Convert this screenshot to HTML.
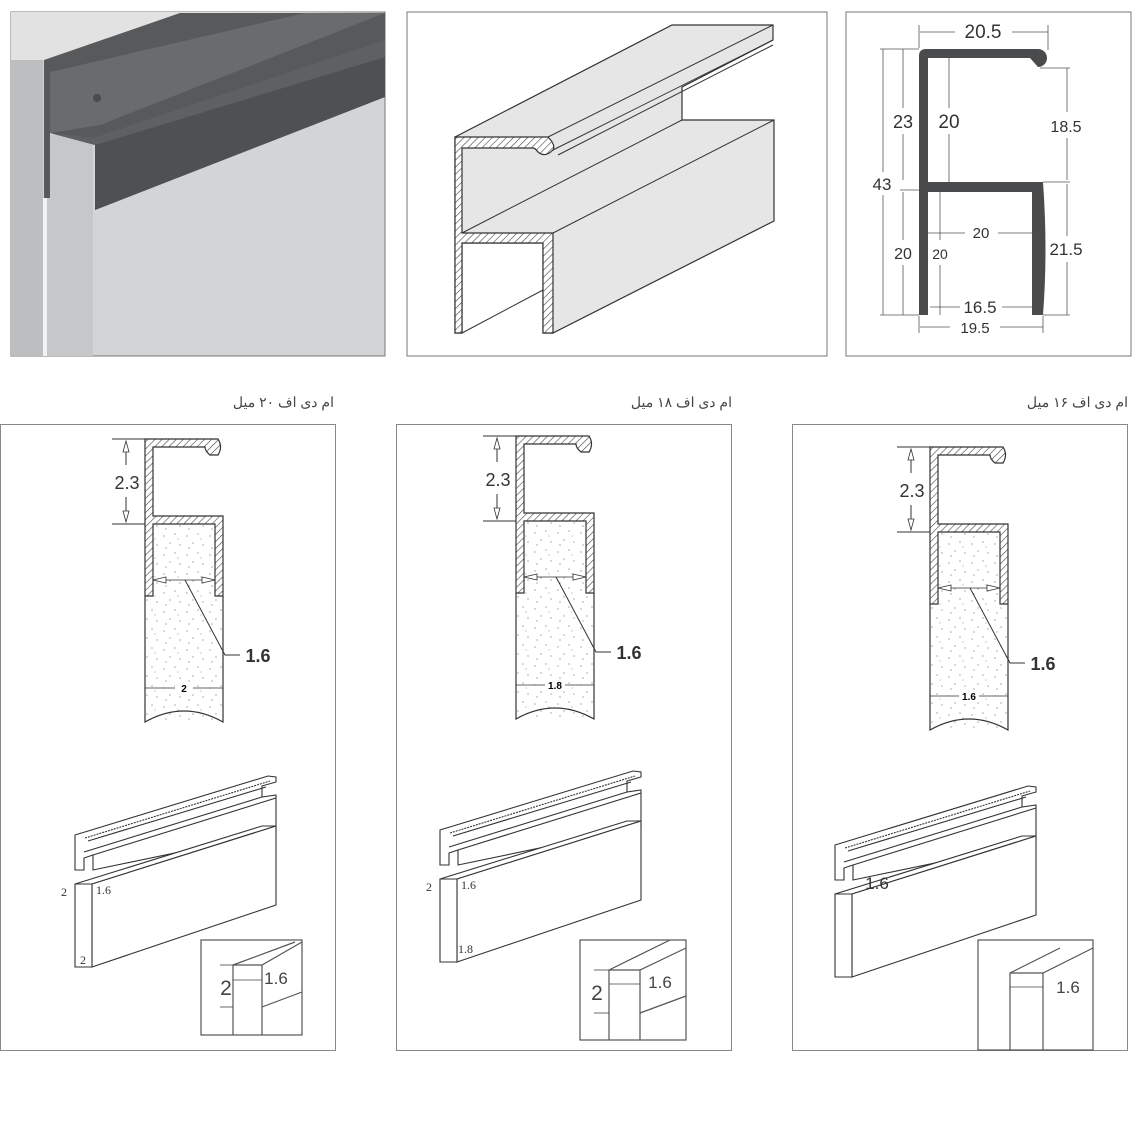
<!DOCTYPE html>
<html><head><meta charset="utf-8"><style>
html,body{margin:0;padding:0;background:#fff;width:1143px;height:1143px;overflow:hidden}
svg{display:block}
</style></head><body>
<svg width="1143" height="1143" viewBox="0 0 1143 1143" xmlns="http://www.w3.org/2000/svg" font-family="Liberation Sans, sans-serif">
<defs>
<pattern id="hatch" patternUnits="userSpaceOnUse" width="5" height="5" patternTransform="rotate(45)">
<rect width="5" height="5" fill="#fff"/><line x1="0" y1="0" x2="0" y2="5" stroke="#444" stroke-width="1.2"/></pattern>
<pattern id="stip" patternUnits="userSpaceOnUse" width="23" height="19">
<rect width="23" height="19" fill="#fff"/>
<circle cx="3" cy="4" r="0.6" fill="#777"/><circle cx="14" cy="2" r="0.6" fill="#777"/><circle cx="9" cy="11" r="0.6" fill="#777"/><circle cx="19" cy="13" r="0.6" fill="#777"/><circle cx="5" cy="16" r="0.6" fill="#777"/><circle cx="17" cy="7" r="0.5" fill="#777"/></pattern>
<g id="sec">
<rect x="145" y="524" width="78" height="196" fill="url(#stip)"/>
<path d="M145,596 L145,722 Q184,700 223,722 L223,596" fill="url(#stip)" stroke="#333" stroke-width="1.2"/>
<path d="M145,439 L218,439 Q223,447 218,455 L210,455 Q205,451 205,447 L153,447 L153,516 L223,516 L223,596 L215,596 L215,524 L153,524 L153,596 L145,596 Z" fill="url(#hatch)" stroke="#333" stroke-width="1.2"/>
<line x1="112" y1="439" x2="145" y2="439" stroke="#333"/>
<line x1="112" y1="524" x2="145" y2="524" stroke="#333"/>
<line x1="126" y1="441" x2="126" y2="465" stroke="#333"/>
<line x1="126" y1="497" x2="126" y2="522" stroke="#333"/>
<path d="M123,452 L126,441 L129,452 Z M123,511 L126,522 L129,511 Z" fill="#fff" stroke="#333" stroke-width="0.8"/>
<text x="127" y="489" font-size="18" text-anchor="middle" fill="#333">2.3</text>
<line x1="153" y1="580" x2="215" y2="580" stroke="#333" stroke-width="0.8"/>
<path d="M153,580 L166,577 L166,583 Z M215,580 L202,577 L202,583 Z" fill="#fff" stroke="#333" stroke-width="0.8"/>
<polyline points="185,580 225,655 240,655" fill="none" stroke="#333" stroke-width="1"/>
<text x="258" y="662" font-size="18" font-weight="bold" text-anchor="middle" fill="#333">1.6</text>
<line x1="145" y1="688" x2="223" y2="688" stroke="#333" stroke-width="0.8"/>
</g>
<g id="iso" fill="#fff" stroke="#333" stroke-width="1.1">
<path d="M75,835 L268,776 L276,777 L276,782 L262,786 L262,797 L276,795 L276,832 L93,870 L93,855 L84,858 L84,870 L75,870 Z"/>
<line x1="85" y1="838" x2="270" y2="781" stroke-dasharray="2 1"/>
<line x1="88" y1="841" x2="266" y2="787"/>
<line x1="84" y1="852" x2="262" y2="797"/>
<line x1="93" y1="855" x2="276" y2="798"/>
<path d="M75,884 L262,826 L276,826 L92,884 Z"/>
<path d="M92,884 L276,826 L276,905 L92,967 Z"/>
<path d="M75,884 L92,884 L92,967 L75,967 Z"/>
</g>
</defs>

<!-- Panel 1 -->
<rect x="11" y="12" width="374" height="344" fill="#d3d4d5" stroke="#777"/>
<polygon points="11,12 385,12 180,13 44,60 11,60" fill="#e2e2e2"/>
<rect x="11" y="60" width="32" height="296" fill="#bdbebf"/>
<rect x="43" y="198" width="4" height="158" fill="#f2f2f2"/>
<rect x="47" y="135" width="46" height="221" fill="#c6c7c8"/>
<polygon points="44,60 180,13 385,13 385,97 95,210 95,145 50,133 50,198 44,198" fill="#58595b"/>
<polygon points="50,72 305,13 385,13 100,125 50,133" fill="#6a6b6d"/>
<polygon points="95,145 385,57 385,97 95,210" fill="#4f5052"/>
<polygon points="50,133 93,138 385,40 385,57 95,145" fill="#5f6062"/>
<circle cx="97" cy="98" r="4" fill="#4a4b4d"/>

<!-- Panel 2 -->
<rect x="407" y="12" width="420" height="344" fill="#fff" stroke="#777"/>
<path d="M455,137 L672,25 L773,25 L773,40 L682,87 L682,120 L774,120 L774,221 L553,333 L543,333 L543,243 L462,243 L462,333 L455,333 Z" fill="#e6e6e6" stroke="#333" stroke-width="1.2"/>
<path d="M455,137 L548,137 Q556,145 553,150 Q545,158 538,152 Q535,148 533,148 L462,148 L462,233 L553,233 L553,333 L543,333 L543,243 L462,243 L462,333 L455,333 Z" fill="url(#hatch)" stroke="#333" stroke-width="1.2"/>
<line x1="548" y1="137" x2="773" y2="25" stroke="#333"/>
<line x1="553" y1="150" x2="773" y2="40" stroke="#333"/>
<line x1="558" y1="155" x2="773" y2="45" stroke="#333"/>
<line x1="462" y1="233" x2="682" y2="120" stroke="#333"/>
<line x1="553" y1="233" x2="774" y2="120" stroke="#333"/>
<line x1="462" y1="333" x2="543" y2="290" stroke="#333"/>

<!-- Panel 3 -->
<rect x="846" y="12" width="285" height="344" fill="#fff" stroke="#777"/>
<g fill="#4a4b4d">
<path d="M919,56 Q919,49 926,49 L1038,49 A9,9 0 1 1 1038,67 L1030,58 L928,58 L928,182 L1043,182 Q1048,250 1043,315 L1032,315 L1032,192 L928,192 L928,315 L919,315 Z"/>
</g>
<g stroke="#555" stroke-width="0.8" fill="none">
<line x1="920" y1="32" x2="955" y2="32"/><line x1="1012" y1="32" x2="1048" y2="32"/>
<line x1="919" y1="25" x2="919" y2="48"/><line x1="1048" y1="25" x2="1048" y2="50"/>
<line x1="883" y1="49" x2="883" y2="172"/><line x1="883" y1="195" x2="883" y2="315"/>
<line x1="903" y1="49" x2="903" y2="108"/><line x1="903" y1="134" x2="903" y2="180"/>
<line x1="903" y1="192" x2="903" y2="240"/><line x1="903" y1="265" x2="903" y2="315"/>
<line x1="880" y1="49" x2="919" y2="49"/><line x1="880" y1="315" x2="919" y2="315"/>
<line x1="900" y1="190" x2="919" y2="190"/>
<line x1="949" y1="58" x2="949" y2="108"/><line x1="949" y1="134" x2="949" y2="182"/>
<line x1="940" y1="192" x2="940" y2="240"/><line x1="940" y1="265" x2="940" y2="315"/>
<line x1="1067" y1="68" x2="1067" y2="112"/><line x1="1067" y1="138" x2="1067" y2="180"/>
<line x1="1067" y1="184" x2="1067" y2="236"/><line x1="1067" y1="262" x2="1067" y2="315"/>
<line x1="1040" y1="68" x2="1070" y2="68"/><line x1="1043" y1="182" x2="1070" y2="182"/><line x1="1043" y1="315" x2="1070" y2="315"/>
<line x1="928" y1="233" x2="965" y2="233"/><line x1="998" y1="233" x2="1033" y2="233"/>
<line x1="930" y1="307" x2="960" y2="307"/><line x1="1002" y1="307" x2="1032" y2="307"/>
<line x1="920" y1="327" x2="950" y2="327"/><line x1="1000" y1="327" x2="1043" y2="327"/>
<line x1="919" y1="316" x2="919" y2="333"/><line x1="1043" y1="316" x2="1043" y2="333"/>
</g>
<g fill="#333" text-anchor="middle">
<text x="983" y="38" font-size="19">20.5</text>
<text x="903" y="128" font-size="18">23</text>
<text x="949" y="128" font-size="19">20</text>
<text x="1066" y="132" font-size="16">18.5</text>
<text x="882" y="190" font-size="17">43</text>
<text x="903" y="259" font-size="16">20</text>
<text x="940" y="259" font-size="14">20</text>
<text x="981" y="238" font-size="15">20</text>
<text x="1066" y="255" font-size="17">21.5</text>
<text x="980" y="313" font-size="17">16.5</text>
<text x="975" y="333" font-size="15">19.5</text>
</g>

<!-- Bottom labels -->
<g font-family="Liberation Sans, 'Noto Sans CJK SC', sans-serif" font-size="14" fill="#444" text-anchor="start" direction="rtl">
<text x="334" y="407">ام دی اف ۲۰ میل</text>
<text x="732" y="407">ام دی اف ۱۸ میل</text>
<text x="1128" y="407">ام دی اف ۱۶ میل</text>
</g>

<!-- Bottom panels -->
<rect x="0.5" y="424.5" width="335" height="626" fill="#fff" stroke="#888"/>
<rect x="396.5" y="424.5" width="335" height="626" fill="#fff" stroke="#888"/>
<rect x="792.5" y="424.5" width="335" height="626" fill="#fff" stroke="#888"/>

<use href="#sec"/>
<g transform="translate(371,-3)"><use href="#sec"/></g>
<g transform="translate(785,8)"><use href="#sec"/></g>
<g font-size="10" font-weight="bold" text-anchor="middle">
<rect x="175" y="683" width="18" height="11" fill="#fff"/><text x="184" y="692">2</text>
<rect x="545" y="680" width="20" height="11" fill="#fff"/><text x="555" y="689">1.8</text>
<rect x="959" y="691" width="20" height="11" fill="#fff"/><text x="969" y="700">1.6</text>
</g>

<use href="#iso"/>
<g transform="translate(365,-5)"><use href="#iso"/></g>
<g transform="translate(760,10)"><use href="#iso"/></g>

<g font-family="Liberation Serif, serif" font-size="12" fill="#333">
<text x="61" y="896">2</text><text x="96" y="894">1.6</text><text x="80" y="964">2</text>
<text x="426" y="891">2</text><text x="461" y="889">1.6</text><text x="458" y="953">1.8</text>
</g>
<text x="877" y="889" font-size="17" fill="#333" text-anchor="middle">1.6</text>

<!-- Insets -->
<g fill="#fff" stroke="#555" stroke-width="1.2">
<rect x="201" y="940" width="101" height="95"/>
<path d="M233,1035 L233,965 L262,965 L302,942 M233,965 L295,942 M262,965 L262,1035 M262,1007 L302,992" fill="none"/>
<rect x="580" y="940" width="106" height="100"/>
<path d="M609,1040 L609,970 L640,970 L686,948 M609,970 L670,940 M640,970 L640,1040 M640,1013 L686,996" fill="none"/>
<rect x="978" y="940" width="115" height="110"/>
<path d="M1010,1050 L1010,973 L1043,973 L1093,948 M1010,973 L1060,948 M1043,973 L1043,1050" fill="none"/>
</g>
<g fill="#444" font-size="17" text-anchor="middle">
<text x="276" y="984">1.6</text><text x="226" y="995" font-size="21">2</text>
<text x="660" y="988">1.6</text><text x="597" y="1000" font-size="21">2</text>
<text x="1068" y="993">1.6</text>
</g>
<g stroke="#444" stroke-width="0.8">
<line x1="233" y1="980" x2="262" y2="980"/><line x1="220" y1="965" x2="233" y2="965"/><line x1="220" y1="1007" x2="233" y2="1007"/>
<line x1="609" y1="984" x2="640" y2="984"/><line x1="594" y1="970" x2="609" y2="970"/><line x1="594" y1="1013" x2="609" y2="1013"/>
<line x1="1010" y1="987" x2="1043" y2="987"/>
</g>
</svg>
</body></html>
